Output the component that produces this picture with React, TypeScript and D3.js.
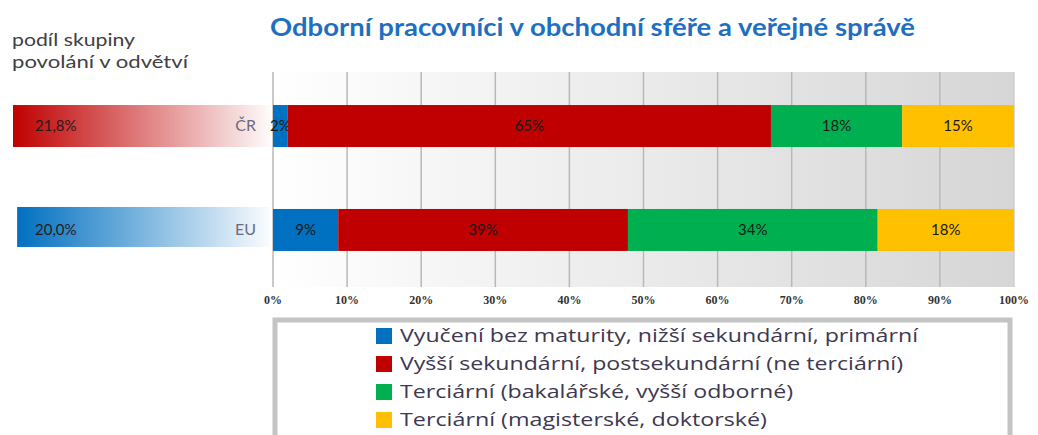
import React from "react";
import * as d3 from "d3";

const categories = ["ČR", "EU"];
const shareValues = [21.8, 20.0];
const shareLabels = ["21,8%", "20,0%"];
const seriesNames = [
  "Vyučení bez maturity, nižší sekundární, primární",
  "Vyšší sekundární, postsekundární (ne terciární)",
  "Terciární (bakalářské, vyšší odborné)",
  "Terciární (magisterské, doktorské)",
];
const vyuceni = [2.0, 8.8];
const vyssiSek = [65.2, 39.1];
const tercBak = [17.7, 33.7];
const tercMag = [15.1, 18.4];
const tickValues = [0, 10, 20, 30, 40, 50, 60, 70, 80, 90, 100];
const colors = ["#0070c0", "#c00000", "#00b050", "#ffc000"];
const shareColors = ["#c00000", "#0070c0"];
const title = "Odborní pracovníci v obchodní sféře a veřejné správě";
const legendWidths = [518, 503, 393, 367];

const W = 1038;
const H = 435;
const FONT = "Lato, 'Open Sans', sans-serif";

export default function App() {
  const x = d3.scaleLinear().domain([0, 100]).range([273, 1014]);
  const y = d3
    .scaleBand<string>()
    .domain(categories)
    .range([70, 286])
    .paddingInner(0.596)
    .paddingOuter(0.337);
  const shareX = d3.scaleLinear().domain([-90, 21.8]).range([270, 13]);

  const table = categories.map((c, i) => ({
    cat: c,
    s0: vyuceni[i],
    s1: vyssiSek[i],
    s2: tercBak[i],
    s3: tercMag[i],
  }));
  const keys = ["s0", "s1", "s2", "s3"];
  const stacked = d3.stack<any>().keys(keys)(table);

  const plotTop = 72;
  const plotBottom = 287;
  const bw = y.bandwidth();

  return (
    <svg
      width={W}
      height={H}
      style={{ position: "absolute", left: 0, top: 0, background: "#fff" }}
    >
      <defs>
        <linearGradient id="bg" x1="0" x2="1" y1="0" y2="0">
          <stop offset="0" stopColor="#ffffff" />
          <stop offset="1" stopColor="#d6d6d6" />
        </linearGradient>
        {shareColors.map((c, i) => (
          <linearGradient key={i} id={"sg" + i} x1="0" x2="1" y1="0" y2="0">
            <stop offset="0" stopColor={c} stopOpacity={1} />
            <stop offset="1" stopColor={c} stopOpacity={0.02} />
          </linearGradient>
        ))}
      </defs>

      {/* title */}
      <text
        x={270}
        y={36}
        fontFamily={FONT}
        fontWeight={700}
        fontSize={24}
        fill="#1f6fc1"
        textLength={645}
        lengthAdjust="spacingAndGlyphs"
      >
        {title}
      </text>

      {/* left header */}
      <text x={12} y={46} fontFamily={FONT} fontSize={17} fill="#404040" textLength={123} lengthAdjust="spacingAndGlyphs">
        podíl  skupiny
      </text>
      <text x={12} y={68} fontFamily={FONT} fontSize={17} fill="#404040" textLength={176} lengthAdjust="spacingAndGlyphs">
        povolání  v odvětví
      </text>

      {/* plot background */}
      <rect x={x(0)} y={plotTop} width={x(100) - x(0)} height={plotBottom - plotTop} fill="url(#bg)" />
      {tickValues.map((t) => (
        <line
          key={t}
          x1={x(t)}
          x2={x(t)}
          y1={plotTop}
          y2={plotBottom}
          stroke={t === 100 ? "#cfcfcf" : "#b8b8b8"}
          strokeWidth={1.5}
        />
      ))}

      {/* left share bars */}
      {categories.map((c, i) => (
        <g key={c}>
          <rect
            x={shareX(shareValues[i])}
            y={y(c)! + (i === 1 ? -2 : 0)}
            width={270 - shareX(shareValues[i])}
            height={bw - (i === 1 ? 2 : 0)}
            fill={`url(#sg${i})`}
          />
          <text
            x={35}
            y={y(c)! + bw / 2 + 1}
            dominantBaseline="middle"
            fontFamily={FONT}
            fontSize={15}
            fill="#2a1a1a"
          >
            {shareLabels[i]}
          </text>
          <text
            x={256}
            y={y(c)! + bw / 2 + 1}
            textAnchor="end"
            dominantBaseline="middle"
            fontFamily={FONT}
            fontSize={16}
            fill="#6b6b80"
          >
            {c}
          </text>
        </g>
      ))}

      {/* stacked bars */}
      {stacked.map((layer, li) => (
        <g key={li}>
          {layer.map((d: any, di: number) => {
            const cat = categories[di];
            const x0 = x(d[0]);
            const x1 = x(d[1]);
            const v = d[1] - d[0];
            return (
              <g key={cat}>
                <rect x={x0} y={y(cat)!} width={x1 - x0} height={bw} fill={colors[li]} />
                <text
                  x={(x0 + x1) / 2}
                  y={y(cat)! + bw / 2 + 1}
                  textAnchor="middle"
                  dominantBaseline="middle"
                  fontFamily={FONT}
                  fontSize={15}
                  fill="#1a1a1a"
                >
                  {Math.round(v) + "%"}
                </text>
              </g>
            );
          })}
        </g>
      ))}

      {/* axis labels */}
      {tickValues.map((t) => (
        <text
          key={t}
          x={x(t)}
          y={301}
          textAnchor="middle"
          dominantBaseline="middle"
          fontFamily="'Liberation Serif', serif"
          fontWeight={700}
          fontSize={12}
          fill="#333"
        >
          {t + "%"}
        </text>
      ))}

      {/* legend */}
      <rect x={275} y={320} width={735} height={130} fill="#fff" stroke="#c4c4c4" strokeWidth={5} />
      {seriesNames.map((n, i) => {
        const cy = 336 + i * 28;
        return (
          <g key={n}>
            <rect x={376} y={cy - 8} width={16} height={16} fill={colors[i]} />
            <text
              x={400}
              y={cy + 1}
              dominantBaseline="middle"
              fontFamily="'Open Sans', sans-serif"
              fontSize={19}
              fill="#3d3850"
              textLength={legendWidths[i]}
              lengthAdjust="spacingAndGlyphs"
            >
              {n}
            </text>
          </g>
        );
      })}
    </svg>
  );
}
